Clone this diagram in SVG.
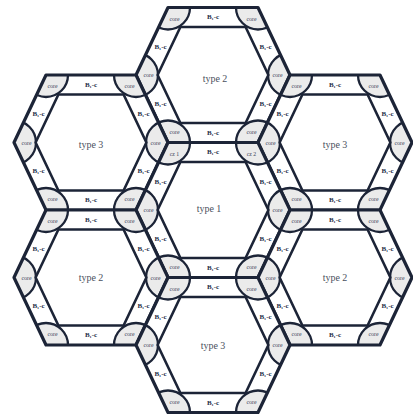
<svg xmlns="http://www.w3.org/2000/svg" xmlns:xlink="http://www.w3.org/1999/xlink" width="413" height="417" viewBox="0 0 413 417">
<style>
.ob{fill:#fff;stroke:none}
.os{fill:none;stroke:#1c2437;stroke-width:3.2;stroke-linejoin:round}
.in{fill:#fff;stroke:#1c2437;stroke-width:2.6;stroke-linejoin:round}
.cr{fill:#ebebeb;stroke:#1c2437;stroke-width:2.3}
.core{font-family:"Liberation Serif",serif;font-size:5.8px;fill:#3a4158;text-anchor:middle;dominant-baseline:central}
.el{font-family:"Liberation Serif",serif;font-size:7px;font-weight:bold;fill:#27304a;text-anchor:middle;dominant-baseline:central}
.ty{font-family:"Liberation Serif",serif;font-size:10px;fill:#4a5060;text-anchor:middle;dominant-baseline:central}
</style>
<defs>
<clipPath id="hc"><polygon points="-77,0 -45,-67.5 45,-67.5 77,0 45,67.5 -45,67.5"/></clipPath>
<g id="hexShape">
<polygon class="ob" points="-77,0 -45,-67.5 45,-67.5 77,0 45,67.5 -45,67.5"/>
<g clip-path="url(#hc)">
<circle class="cr" cx="-77" cy="0" r="22"/>
<circle class="cr" cx="-45" cy="-67.5" r="22"/>
<circle class="cr" cx="45" cy="-67.5" r="22"/>
<circle class="cr" cx="77" cy="0" r="22"/>
<circle class="cr" cx="45" cy="67.5" r="22"/>
<circle class="cr" cx="-45" cy="67.5" r="22"/>
</g>
<polygon class="in" points="-55.4,0 -32.6,-48 32.6,-48 55.4,0 32.6,48 -32.6,48"/>
<polygon class="os" points="-77,0 -45,-67.5 45,-67.5 77,0 45,67.5 -45,67.5"/>
</g>
<g id="edgeLabels">
<text class="el" x="0" y="-57.8">B₁-c</text>
<text class="el" x="0" y="57.8">B₁-c</text>
<text class="el" x="-52.5" y="-28.5">B₁-c</text>
<text class="el" x="52.5" y="-28.5">B₁-c</text>
<text class="el" x="-52.5" y="28.5">B₁-c</text>
<text class="el" x="52.5" y="28.5">B₁-c</text>
</g>
<g id="coreLabels">
<text class="core" x="-38.5" y="-56.5">core</text>
<text class="core" x="38.5" y="-56.5">core</text>
<text class="core" x="64.5" y="0">core</text>
<text class="core" x="38.5" y="56.5">core</text>
<text class="core" x="-38.5" y="56.5">core</text>
<text class="core" x="-64.5" y="0">core</text>
</g>
</defs>
<rect width="413" height="417" fill="#fff"/>
<g id="hex-top" transform="translate(213,75)">
<use xlink:href="#hexShape"/><use xlink:href="#edgeLabels"/><use xlink:href="#coreLabels"/>
<text class="ty" x="2" y="3">type 2</text>
</g>
<g id="hex-left-top" transform="translate(91,142.5)">
<use xlink:href="#hexShape"/><use xlink:href="#edgeLabels"/><use xlink:href="#coreLabels"/>
<text class="ty" x="0" y="2">type 3</text>
</g>
<g id="hex-right-top" transform="translate(335,142.5)">
<use xlink:href="#hexShape"/><use xlink:href="#edgeLabels"/><use xlink:href="#coreLabels"/>
<text class="ty" x="0" y="2">type 3</text>
</g>
<g id="hex-center" transform="translate(213,210)">
<use xlink:href="#hexShape"/><use xlink:href="#edgeLabels"/>
<text class="core" x="-38.5" y="-56.5">cz 1</text>
<text class="core" x="38.5" y="-56.5">cz 2</text>
<text class="core" x="64.5" y="0">core</text>
<text class="core" x="38.5" y="56.5">core</text>
<text class="core" x="-38.5" y="56.5">core</text>
<text class="core" x="-64.5" y="0">core</text>
<text class="ty" x="-4" y="-2">type 1</text>
</g>
<g id="hex-left-bottom" transform="translate(91,277.5)">
<use xlink:href="#hexShape"/><use xlink:href="#edgeLabels"/><use xlink:href="#coreLabels"/>
<text class="ty" x="0" y="0">type 2</text>
</g>
<g id="hex-right-bottom" transform="translate(335,277.5)">
<use xlink:href="#hexShape"/><use xlink:href="#edgeLabels"/><use xlink:href="#coreLabels"/>
<text class="ty" x="0" y="0">type 2</text>
</g>
<g id="hex-bottom" transform="translate(213,345)">
<use xlink:href="#hexShape"/><use xlink:href="#edgeLabels"/><use xlink:href="#coreLabels"/>
<text class="ty" x="0" y="0">type 3</text>
</g>
</svg>
